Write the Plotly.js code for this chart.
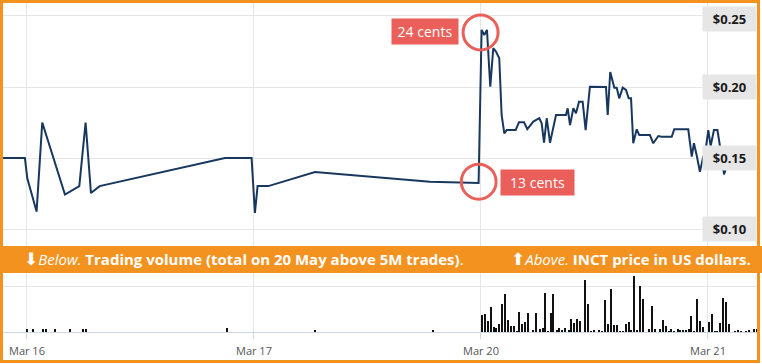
<!DOCTYPE html>
<html>
<head>
<meta charset="utf-8">
<script src="https://cdn.plot.ly/plotly-3.0.1.min.js"></script>
<style>
  html, body { margin: 0; padding: 0; background: #fff; }
  #wrap { position: relative; width: 762px; height: 364px; }
  #chart { position: absolute; left: 0; top: 0; width: 762px; height: 364px; }
  #frame { position: absolute; left: 0; top: 0; width: 760px; height: 363px; box-sizing: border-box;
           border: 3px solid #f3921f; pointer-events: none; }
</style>
</head>
<body>
<div id="wrap"><div id="chart"></div><div id="frame"></div></div>
<script>
// ---- Price series (INCT, US$) ----
const priceTimes = [
  '2017-03-15 21:28','2017-03-15 23:47',
  '2017-03-16 00:02','2017-03-16 01:01','2017-03-16 01:37','2017-03-16 04:01','2017-03-16 05:32',
  '2017-03-16 06:12','2017-03-16 06:46','2017-03-16 07:41','2017-03-16 20:56','2017-03-16 23:45',
  '2017-03-17 00:06','2017-03-17 00:23','2017-03-17 01:31','2017-03-17 06:27','2017-03-17 18:36','2017-03-17 23:45',
  '2017-03-20 00:04','2017-03-20 00:21','2017-03-20 00:38','2017-03-20 00:59','2017-03-20 01:18','2017-03-20 01:35',
  '2017-03-20 01:56','2017-03-20 02:11','2017-03-20 02:28','2017-03-20 02:43','2017-03-20 03:40','2017-03-20 04:01',
  '2017-03-20 04:33','2017-03-20 04:54','2017-03-20 05:32','2017-03-20 06:10','2017-03-20 06:25','2017-03-20 06:40',
  '2017-03-20 06:57','2017-03-20 07:18','2017-03-20 07:56','2017-03-20 08:59','2017-03-20 09:10','2017-03-20 09:25',
  '2017-03-20 09:46','2017-03-20 10:03','2017-03-20 10:22','2017-03-20 10:45','2017-03-20 11:04','2017-03-20 11:31',
  '2017-03-20 13:13','2017-03-20 13:24','2017-03-20 13:40','2017-03-20 14:06','2017-03-20 14:21','2017-03-20 14:37',
  '2017-03-20 14:59','2017-03-20 15:20','2017-03-20 15:37','2017-03-20 15:52','2017-03-20 16:06','2017-03-20 16:28',
  '2017-03-20 16:44','2017-03-20 17:52','2017-03-20 18:13','2017-03-20 18:45','2017-03-20 19:06','2017-03-20 20:10',
  '2017-03-20 20:26','2017-03-20 21:55','2017-03-20 22:17','2017-03-20 22:31','2017-03-20 22:48','2017-03-20 23:09',
  '2017-03-20 23:30','2017-03-20 23:41',
  '2017-03-21 00:02','2017-03-21 00:17','2017-03-21 00:38','2017-03-21 01:00','2017-03-21 01:16','2017-03-21 01:42',
  '2017-03-21 02:07'
];
const priceValues = [
  0.1501,0.1501,
  0.1359,0.1125,0.1751,0.1245,0.1304,0.1751,0.1255,0.1304,0.1501,0.1501,
  0.1115,0.1304,0.1304,0.1403,0.1335,0.1326,
  0.2402,0.2366,0.2402,0.2003,0.2273,0.2249,0.2203,0.1804,0.1675,0.1698,0.1698,0.1752,
  0.1752,0.1705,0.1757,0.1781,0.1745,0.1609,0.1781,0.1609,0.1804,0.1804,0.1851,0.1733,
  0.1851,0.1816,0.1897,0.1897,0.1698,0.2003,0.2001,0.1804,0.2106,0.1996,0.1996,0.1921,
  0.1996,0.1980,0.1921,0.1921,0.1605,0.1703,0.1663,0.1663,0.1605,0.1656,0.1651,0.1651,
  0.1703,0.1703,0.1511,0.1605,0.1523,0.1405,0.1511,0.1523,
  0.1698,0.1586,0.1698,0.1698,0.1586,0.1386,0.1473
];

// ---- Trading volume (thousands of trades) ----
const volumeTimes = [
  '2017-03-16 00:02','2017-03-16 00:40','2017-03-16 01:43','2017-03-16 02:00','2017-03-16 02:58','2017-03-16 04:33',
  '2017-03-16 05:53','2017-03-16 06:14','2017-03-16 21:07','2017-03-17 06:27','2017-03-17 18:57',
  '2017-03-20 00:04','2017-03-20 00:23','2017-03-20 00:43','2017-03-20 01:02','2017-03-20 01:21','2017-03-20 01:35',
  '2017-03-20 01:52','2017-03-20 02:11','2017-03-20 02:30','2017-03-20 02:49','2017-03-20 03:08','2017-03-20 03:27',
  '2017-03-20 03:48','2017-03-20 04:03','2017-03-20 04:20','2017-03-20 04:37','2017-03-20 04:58','2017-03-20 05:28',
  '2017-03-20 05:51','2017-03-20 06:14','2017-03-20 06:31','2017-03-20 06:48','2017-03-20 07:03','2017-03-20 07:22',
  '2017-03-20 07:39','2017-03-20 08:00','2017-03-20 08:17','2017-03-20 08:34','2017-03-20 08:53','2017-03-20 09:16',
  '2017-03-20 09:31','2017-03-20 09:50','2017-03-20 10:07','2017-03-20 10:26','2017-03-20 11:00','2017-03-20 11:17',
  '2017-03-20 11:38','2017-03-20 11:59','2017-03-20 12:30','2017-03-20 12:50','2017-03-20 13:08','2017-03-20 13:24',
  '2017-03-20 13:45','2017-03-20 14:02','2017-03-20 14:21','2017-03-20 14:40','2017-03-20 14:59','2017-03-20 15:18',
  '2017-03-20 15:37','2017-03-20 15:53','2017-03-20 16:11','2017-03-20 16:30','2017-03-20 16:49','2017-03-20 17:06',
  '2017-03-20 17:44','2017-03-20 18:03','2017-03-20 18:22','2017-03-20 18:54','2017-03-20 19:13','2017-03-20 19:32',
  '2017-03-20 19:51','2017-03-20 20:05','2017-03-20 20:24','2017-03-20 20:48','2017-03-20 21:04','2017-03-20 21:21',
  '2017-03-20 21:38','2017-03-20 21:58','2017-03-20 22:14','2017-03-20 22:31','2017-03-20 22:48','2017-03-20 23:07',
  '2017-03-20 23:26',
  '2017-03-21 00:04','2017-03-21 00:23','2017-03-21 00:43','2017-03-21 00:59','2017-03-21 01:16','2017-03-21 01:35',
  '2017-03-21 01:52','2017-03-21 02:11','2017-03-21 02:49','2017-03-21 03:08','2017-03-21 03:27','2017-03-21 04:01',
  '2017-03-21 04:18','2017-03-21 04:52','2017-03-21 05:09'
];
const volumeValues = [
  17,17,17,17,17,17,17,17,27,13,13,
  111,118,73,167,33,29,55,185,251,78,38,38,
  7,135,55,67,129,11,129,20,29,260,7,129,
  251,11,29,11,29,11,85,62,85,73,345,185,
  7,11,11,7,215,51,289,45,49,7,7,51,
  67,11,371,11,305,222,22,173,18,18,82,38,
  7,18,7,18,11,11,11,18,105,7,222,73,
  33,
  67,122,7,7,62,229,198,51,7,15,7,7,
  11,18,18
];

// ---- Axes / labels ----
const dateTicks = ['2017-03-16','2017-03-17','2017-03-20','2017-03-21'];
const priceTicks = [0.10, 0.15, 0.20, 0.25];
const priceTickLabels = ['$0.10', '$0.15', '$0.20', '$0.25'];
const volumeGrid = [300];
const bandLeftText = '<span style="font-family:DejaVu Sans;font-size:17px">⬇</span><i>Below.</i> <b>Trading volume (total on 20 May above 5M trades)</b>.';
const bandRightText = '<span style="font-family:DejaVu Sans;font-size:17px">⬆</span><i>Above.</i> <b>INCT price in US dollars.</b>';
const highLabel = '24 cents';
const lowLabel = '13 cents';

// index of the peak and of the last point before the jump
const peakIdx = priceValues.indexOf(Math.max(...priceValues));
const lowIdx = peakIdx - 1;

const RED = '#ea5f5a';
const ORANGE = '#f3921f';

const traces = [
  { type: 'scatter', mode: 'lines', x: priceTimes, y: priceValues, xaxis: 'x', yaxis: 'y',
    line: { color: '#17375e', width: 2 }, hoverinfo: 'skip' },
  { type: 'bar', x: volumeTimes, y: volumeValues, xaxis: 'x', yaxis: 'y2',
    marker: { color: '#111111', line: { width: 0 } }, width: 760000, hoverinfo: 'skip' }
];

const annotations = [];
priceTicks.forEach((v, i) => {
  annotations.push({
    xref: 'paper', x: 1, xanchor: 'right', yref: 'y', y: v, yanchor: 'middle',
    yshift: i === priceTicks.length - 1 ? -3 : 0,
    text: '<b>' + priceTickLabels[i] + '</b>', showarrow: false,
    font: { family: 'Open Sans', size: 13, color: '#1a1a1a' },
    bgcolor: '#e6e6e6', width: 45, height: 16, borderpad: 4, align: 'center'
  });
});
annotations.push({
  xref: 'paper', x: 0.0252, xanchor: 'left', yref: 'paper', y: 0.2204, yanchor: 'middle',
  text: bandLeftText, showarrow: false, font: { family: 'Open Sans', size: 15, color: '#ffffff' }
});
annotations.push({
  xref: 'paper', x: 0.9947, xanchor: 'right', yref: 'paper', y: 0.2204, yanchor: 'middle',
  text: bandRightText, showarrow: false, font: { family: 'Open Sans', size: 15, color: '#ffffff' }
});
annotations.push({
  xref: 'x', x: priceTimes[peakIdx], yref: 'y', y: priceValues[peakIdx],
  xanchor: 'right', yanchor: 'middle', xshift: -22.7, yshift: -1.7,
  text: highLabel, showarrow: false, font: { family: 'Open Sans', size: 14, color: '#ffffff' },
  bgcolor: RED, width: 60, height: 19, borderpad: 3
});
annotations.push({
  xref: 'x', x: priceTimes[lowIdx], yref: 'y', y: priceValues[lowIdx],
  xanchor: 'left', yanchor: 'middle', xshift: 21.3, yshift: 0.5,
  text: lowLabel, showarrow: false, font: { family: 'Open Sans', size: 14, color: '#ffffff' },
  bgcolor: RED, width: 67, height: 19, borderpad: 3
});

const shapes = [
  { type: 'rect', xref: 'paper', yref: 'paper', x0: -0.01, x1: 1.01, y0: 0.1793, y1: 0.2614,
    fillcolor: ORANGE, line: { width: 0 }, layer: 'above' },
  { type: 'circle', xref: 'x', yref: 'y', xsizemode: 'pixel', ysizemode: 'pixel',
    xanchor: priceTimes[peakIdx], yanchor: priceValues[peakIdx],
    x0: -18.5, x1: 16.5, y0: -20, y1: 15, line: { color: RED, width: 3 }, layer: 'above' },
  { type: 'circle', xref: 'x', yref: 'y', xsizemode: 'pixel', ysizemode: 'pixel',
    xanchor: priceTimes[lowIdx], yanchor: priceValues[lowIdx],
    x0: -17.3, x1: 17.5, y0: -16.2, y1: 18.8, line: { color: RED, width: 3 }, layer: 'above' }
];

const layout = {
  width: 762, height: 364,
  margin: { l: 3, r: 5, t: 3, b: 32, pad: 0 },
  paper_bgcolor: '#ffffff', plot_bgcolor: '#ffffff',
  showlegend: false, hovermode: false, bargap: 0,
  font: { family: 'Open Sans, sans-serif' },
  xaxis: {
    type: 'date', anchor: 'y2', domain: [0, 1],
    range: ['2017-03-15 21:28', '2017-03-21 05:11'],
    rangebreaks: [{ bounds: ['sat', 'mon'] }],
    tickvals: dateTicks, tickformat: '%b %d',
    showgrid: true, gridcolor: '#e6e6e6', gridwidth: 1,
    showline: true, linecolor: '#ccd6eb', linewidth: 1,
    ticks: 'outside', tickcolor: '#ccd6eb', ticklen: 6, tickwidth: 1,
    ticklabelstandoff: 3,
    tickfont: { family: 'Open Sans', size: 11, color: '#555555' },
    zeroline: false, fixedrange: true
  },
  yaxis: {
    domain: [0.2614, 1], range: [0.0883, 0.2591], anchor: 'x',
    tickvals: priceTicks, showticklabels: false, ticks: '',
    showgrid: true, gridcolor: '#e6e6e6', zeroline: false, fixedrange: true
  },
  yaxis2: {
    domain: [0, 0.1793], range: [0, 393], anchor: 'x',
    tickvals: volumeGrid, showticklabels: false, ticks: '',
    showgrid: true, gridcolor: '#e6e6e6', zeroline: false, fixedrange: true
  },
  annotations: annotations,
  shapes: shapes
};

Plotly.newPlot('chart', traces, layout, { staticPlot: true, displayModeBar: false });
</script>
</body>
</html>
